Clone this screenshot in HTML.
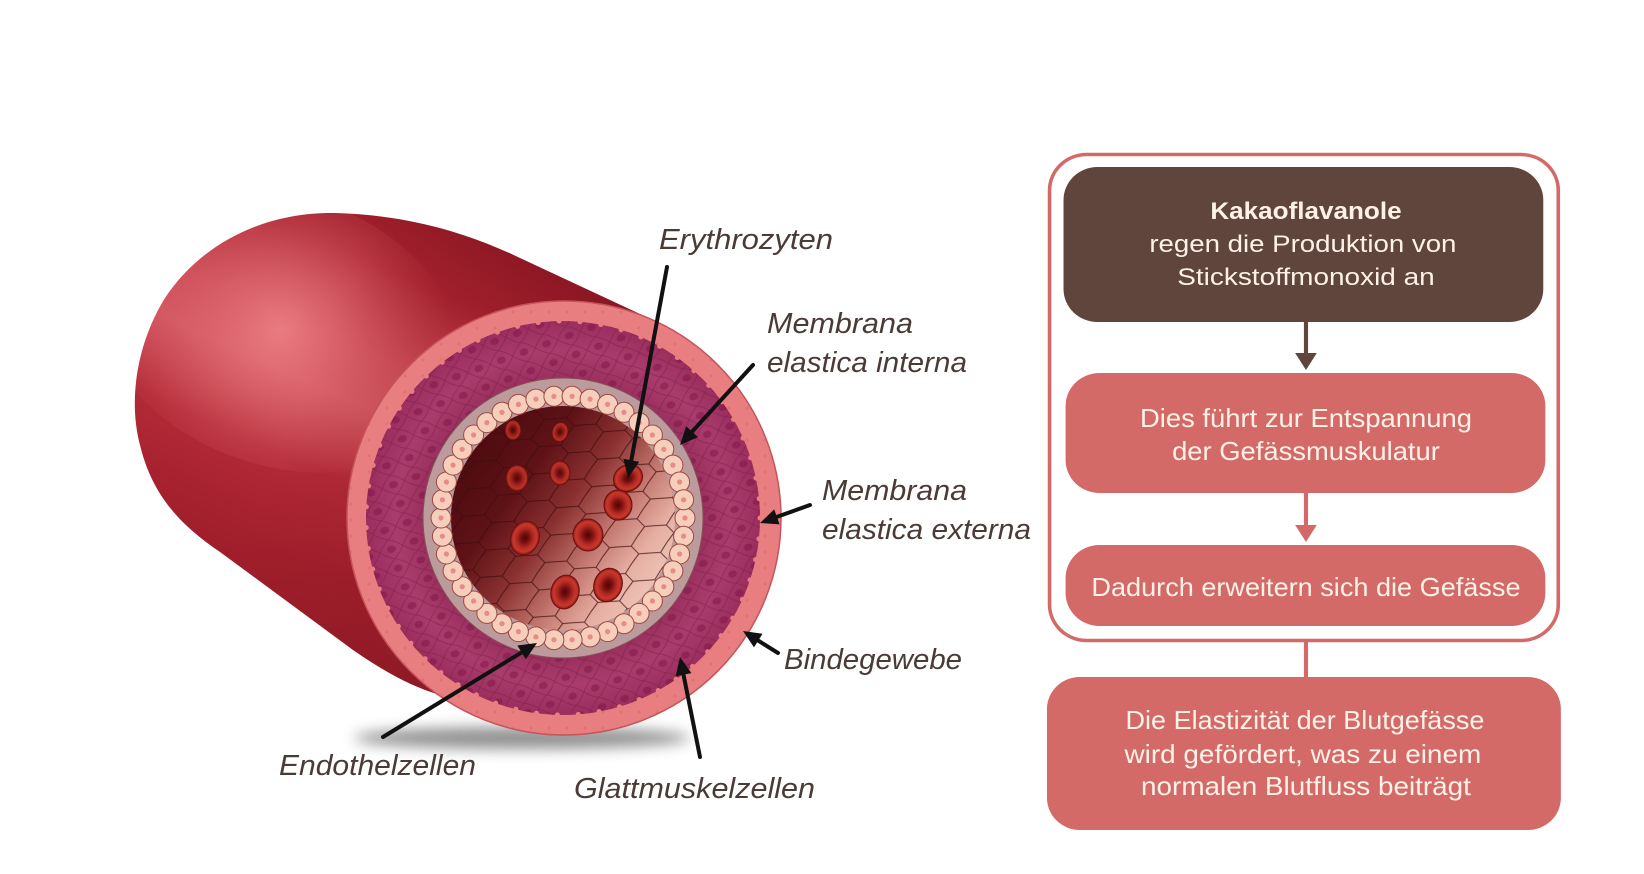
<!DOCTYPE html>
<html><head><meta charset="utf-8"><style>html,body{margin:0;padding:0;background:#fff;width:1644px;height:874px;overflow:hidden}svg{display:block}</style></head>
<body>
<svg width="1644" height="874" viewBox="0 0 1644 874" xmlns="http://www.w3.org/2000/svg">
<defs>
  <linearGradient id="bodyGrad" gradientUnits="userSpaceOnUse" x1="420" y1="190" x2="224" y2="628">
    <stop offset="0" stop-color="#8f1824"/>
    <stop offset="0.18" stop-color="#a8222f"/>
    <stop offset="0.36" stop-color="#cc4a55"/>
    <stop offset="0.46" stop-color="#d2565f"/>
    <stop offset="0.62" stop-color="#b32a37"/>
    <stop offset="0.82" stop-color="#a21f2c"/>
    <stop offset="1" stop-color="#981c29"/>
  </linearGradient>
  <radialGradient id="hiGrad" gradientUnits="userSpaceOnUse" cx="280" cy="330" r="170">
    <stop offset="0" stop-color="#ee8488" stop-opacity="0.85"/>
    <stop offset="0.5" stop-color="#e06a72" stop-opacity="0.45"/>
    <stop offset="1" stop-color="#d05560" stop-opacity="0"/>
  </radialGradient>
  <linearGradient id="axisDark" gradientUnits="userSpaceOnUse" x1="300" y1="400" x2="600" y2="530">
    <stop offset="0" stop-color="#6a0c18" stop-opacity="0"/>
    <stop offset="1" stop-color="#6a0c18" stop-opacity="0.35"/>
  </linearGradient>
  <clipPath id="bodyClip">
    <path d="M653,320 L520,258 C470,234 410,215 335,213 C262,212 200,245 165,298 C137,343 128,400 140,445 C152,495 180,525 220,552 L353,650 C385,672 410,686 440,695 L564,518 Z"/>
  </clipPath>
  <radialGradient id="muscleGrad" gradientUnits="userSpaceOnUse" cx="563" cy="518" r="197">
    <stop offset="0.7" stop-color="#9a2f5e"/>
    <stop offset="0.85" stop-color="#a93c6c"/>
    <stop offset="1" stop-color="#9b2e5e"/>
  </radialGradient>
  <pattern id="musclePat" width="24" height="20" patternUnits="userSpaceOnUse" patternTransform="rotate(-20)">
    <ellipse cx="12" cy="10" rx="4.5" ry="3.5" fill="#7a1242" opacity="0.45"/>
    <path d="M0,10 Q6,3 12,0 Q18,3 24,10 M0,10 Q6,17 12,20 Q18,17 24,10" stroke="#6e1a40" stroke-width="0.9" fill="none" opacity="0.45"/>
  </pattern>
  <pattern id="ringPat" width="18" height="16" patternUnits="userSpaceOnUse">
    <circle cx="9" cy="8" r="1.6" fill="#d8646a" opacity="0.5"/>
  </pattern>
  <linearGradient id="lumenGrad" gradientUnits="userSpaceOnUse" x1="460" y1="440" x2="660" y2="590">
    <stop offset="0" stop-color="#4a0a0e"/>
    <stop offset="0.3" stop-color="#5e1216"/>
    <stop offset="0.5" stop-color="#8a3030"/>
    <stop offset="0.7" stop-color="#c47a72"/>
    <stop offset="0.85" stop-color="#e6aea2"/>
    <stop offset="1" stop-color="#f0c6ba"/>
  </linearGradient>
  <pattern id="meshPat" width="30" height="28" patternUnits="userSpaceOnUse" patternTransform="rotate(12)">
    <path d="M15,0 L11,11 L0,14 M11,11 L20,17 L30,14 M20,17 L15,28" stroke="#3e0c0e" stroke-width="1" fill="none" opacity="0.8"/>
  </pattern>
  <clipPath id="lumenClip"><circle cx="563" cy="518" r="112"/></clipPath>
  <radialGradient id="rbc" cx="0.5" cy="0.5" r="0.5">
    <stop offset="0" stop-color="#4d0707"/>
    <stop offset="0.3" stop-color="#7d1010"/>
    <stop offset="0.58" stop-color="#b02a22"/>
    <stop offset="0.82" stop-color="#c9382d"/>
    <stop offset="1" stop-color="#8f1a16"/>
  </radialGradient>
  <filter id="blur" x="-50%" y="-200%" width="200%" height="500%"><feGaussianBlur stdDeviation="7"/></filter>
  <g id="bead">
    <circle r="10" fill="#f7cdbb" stroke="#9a4a42" stroke-width="1"/>
    <circle r="2.6" fill="#e68c88"/>
  </g>
</defs>

<rect width="1644" height="874" fill="#ffffff"/>

<!-- shadow -->
<ellipse cx="522" cy="738" rx="168" ry="11" fill="#6a6a6a" opacity="0.75" filter="url(#blur)"/>

<!-- cylinder body -->
<path d="M653,320 L520,258 C470,234 410,215 335,213 C262,212 200,245 165,298 C137,343 128,400 140,445 C152,495 180,525 220,552 L353,650 C385,672 410,686 440,695 L564,518 Z" fill="url(#bodyGrad)"/>
<g clip-path="url(#bodyClip)">
  <ellipse cx="280" cy="330" rx="190" ry="135" fill="url(#hiGrad)" transform="rotate(20 280 330)"/>
  <rect x="100" y="180" width="600" height="560" fill="url(#axisDark)"/>
</g>

<!-- front cross-section -->
<circle cx="564" cy="518" r="217" fill="#e97e80" stroke="#c4545c" stroke-width="1.5"/>
<circle cx="564" cy="518" r="216" fill="url(#ringPat)"/>
<circle cx="563" cy="518" r="197" fill="url(#muscleGrad)"/>
<circle cx="563" cy="518" r="197" fill="url(#musclePat)"/>
<circle cx="563" cy="518" r="197" fill="none" stroke="#e97e80" stroke-width="5" stroke-dasharray="0 21" stroke-linecap="round"/>
<circle cx="563" cy="518" r="140" fill="#bb9b9c" stroke="#874e58" stroke-width="1"/>
<circle cx="563" cy="518" r="112" fill="url(#lumenGrad)"/>
<g clip-path="url(#lumenClip)">
  <rect x="440" y="395" width="250" height="250" fill="url(#meshPat)"/>
  <g stroke="#6e0e0e" stroke-width="1">
    <ellipse cx="513" cy="430" rx="8" ry="10" fill="url(#rbc)" opacity="0.8"/>
    <ellipse cx="560" cy="432" rx="8" ry="10" fill="url(#rbc)" opacity="0.8" transform="rotate(15 560 432)"/>
    <ellipse cx="517" cy="478" rx="11" ry="13" fill="url(#rbc)" opacity="0.85"/>
    <ellipse cx="560" cy="473" rx="10" ry="12" fill="url(#rbc)" opacity="0.85"/>
    <ellipse cx="618" cy="505" rx="14" ry="15" fill="url(#rbc)"/>
    <ellipse cx="628" cy="478" rx="15" ry="13" fill="url(#rbc)" transform="rotate(-30 628 478)"/>
    <ellipse cx="525" cy="538" rx="14" ry="17" fill="url(#rbc)" transform="rotate(20 525 538)"/>
    <ellipse cx="588" cy="535" rx="15" ry="16" fill="url(#rbc)"/>
    <ellipse cx="565" cy="592" rx="14" ry="17" fill="url(#rbc)" transform="rotate(15 565 592)"/>
    <ellipse cx="608" cy="585" rx="14" ry="17" fill="url(#rbc)" transform="rotate(20 608 585)"/>
  </g>
</g>
<!-- endothelial beads -->
<g>
<use href="#bead" x="685" y="518"/><use href="#bead" x="683.6" y="536.2"/><use href="#bead" x="679.6" y="554"/><use href="#bead" x="672.9" y="570.9"/><use href="#bead" x="663.8" y="586.7"/><use href="#bead" x="652.4" y="601"/><use href="#bead" x="639.1" y="613.4"/><use href="#bead" x="624" y="623.7"/><use href="#bead" x="607.6" y="631.6"/><use href="#bead" x="590.1" y="636.9"/><use href="#bead" x="572.1" y="639.7"/><use href="#bead" x="553.9" y="639.7"/><use href="#bead" x="535.9" y="636.9"/><use href="#bead" x="518.4" y="631.6"/><use href="#bead" x="502" y="623.7"/><use href="#bead" x="486.9" y="613.4"/><use href="#bead" x="473.6" y="601"/><use href="#bead" x="462.2" y="586.7"/><use href="#bead" x="453.1" y="570.9"/><use href="#bead" x="446.4" y="554"/><use href="#bead" x="442.4" y="536.2"/><use href="#bead" x="441" y="518"/><use href="#bead" x="442.4" y="499.8"/><use href="#bead" x="446.4" y="482"/><use href="#bead" x="453.1" y="465.1"/><use href="#bead" x="462.2" y="449.3"/><use href="#bead" x="473.6" y="435"/><use href="#bead" x="486.9" y="422.6"/><use href="#bead" x="502" y="412.3"/><use href="#bead" x="518.4" y="404.4"/><use href="#bead" x="535.9" y="399.1"/><use href="#bead" x="553.9" y="396.3"/><use href="#bead" x="572.1" y="396.3"/><use href="#bead" x="590.1" y="399.1"/><use href="#bead" x="607.6" y="404.4"/><use href="#bead" x="624" y="412.3"/><use href="#bead" x="639.1" y="422.6"/><use href="#bead" x="652.4" y="435"/><use href="#bead" x="663.8" y="449.3"/><use href="#bead" x="672.9" y="465.1"/><use href="#bead" x="679.6" y="482"/><use href="#bead" x="683.6" y="499.8"/>
</g>

<!-- arrows -->
<g stroke="#111" stroke-width="4" stroke-linecap="round" fill="none">
  <line x1="667" y1="267" x2="631.3" y2="460.3"/>
  <line x1="753" y1="365" x2="692.1" y2="431.7"/>
  <line x1="810" y1="505" x2="776.9" y2="516.9"/>
  <line x1="778" y1="653" x2="758.2" y2="640.6"/>
  <line x1="700" y1="757" x2="683.5" y2="674.7"/>
  <line x1="383" y1="737" x2="521.6" y2="652.4"/>
</g>
<g fill="#111">
  <polygon points="628,478 623.4,458.8 639.2,461.8"/>
  <polygon points="680,445 686.2,426.3 698,437.1"/>
  <polygon points="760,523 774.2,509.4 779.6,524.4"/>
  <polygon points="743,631 762.5,633.8 754,647.4"/>
  <polygon points="680,657 691.4,673.1 675.7,676.2"/>
  <polygon points="537,643 525.8,659.2 517.4,645.5"/>
</g>

<!-- labels -->
<g font-family="'Liberation Sans', 'DejaVu Sans', sans-serif" font-style="italic" font-size="29" fill="#4a3b37">
  <text x="659" y="249" textLength="174" lengthAdjust="spacingAndGlyphs">Erythrozyten</text>
  <text x="767" y="333" textLength="146" lengthAdjust="spacingAndGlyphs">Membrana</text>
  <text x="767" y="372" textLength="200" lengthAdjust="spacingAndGlyphs">elastica interna</text>
  <text x="822" y="500" textLength="145" lengthAdjust="spacingAndGlyphs">Membrana</text>
  <text x="822" y="539" textLength="209" lengthAdjust="spacingAndGlyphs">elastica externa</text>
  <text x="784" y="669" textLength="178" lengthAdjust="spacingAndGlyphs">Bindegewebe</text>
  <text x="279" y="775" textLength="197" lengthAdjust="spacingAndGlyphs">Endothelzellen</text>
  <text x="574" y="798" textLength="241" lengthAdjust="spacingAndGlyphs">Glattmuskelzellen</text>
</g>

<!-- flowchart -->
<g transform="translate(1048 0) scale(1.034 1) translate(-1048 0)">
<rect x="1049.5" y="154.5" width="492" height="486" rx="36" ry="36" fill="none" stroke="#d36a68" stroke-width="3.5"/>
<rect x="1063" y="167" width="464" height="155" rx="33" ry="33" fill="#5f453b"/>
<line x1="1297.5" y1="322" x2="1297.5" y2="356" stroke="#5f453b" stroke-width="4"/>
<polygon points="1287,353 1308,353 1297.5,370" fill="#5f453b"/>
<rect x="1065" y="373" width="464" height="120" rx="33" ry="33" fill="#d36a68"/>
<line x1="1297.5" y1="493" x2="1297.5" y2="528" stroke="#d36a68" stroke-width="4"/>
<polygon points="1287,525 1308,525 1297.5,542" fill="#d36a68"/>
<rect x="1065" y="545" width="464" height="81" rx="33" ry="33" fill="#d36a68"/>
<line x1="1297.5" y1="641" x2="1297.5" y2="678" stroke="#d36a68" stroke-width="4"/>
<rect x="1047" y="677" width="497" height="153" rx="32" ry="32" fill="#d36a68"/>

<g font-family="'Liberation Sans', 'DejaVu Sans', sans-serif" fill="#fdf1e8">
  <text x="1205" y="219" font-size="24" font-weight="bold" textLength="185" lengthAdjust="spacingAndGlyphs">Kakaoflavanole</text>
  <text x="1146" y="252" font-size="24" textLength="297" lengthAdjust="spacingAndGlyphs">regen die Produktion von</text>
  <text x="1173" y="285" font-size="24" textLength="249" lengthAdjust="spacingAndGlyphs">Stickstoffmonoxid an</text>
  <text x="1137" y="427" font-size="26" textLength="321" lengthAdjust="spacingAndGlyphs">Dies führt zur Entspannung</text>
  <text x="1168" y="460" font-size="26" textLength="259" lengthAdjust="spacingAndGlyphs">der Gefässmuskulatur</text>
  <text x="1090" y="596" font-size="26" textLength="415" lengthAdjust="spacingAndGlyphs">Dadurch erweitern sich die Gefässe</text>
  <text x="1123" y="729" font-size="26" textLength="347" lengthAdjust="spacingAndGlyphs">Die Elastizität der Blutgefässe</text>
  <text x="1122" y="763" font-size="26" textLength="345" lengthAdjust="spacingAndGlyphs">wird gefördert, was zu einem</text>
  <text x="1138" y="795" font-size="26" textLength="319" lengthAdjust="spacingAndGlyphs">normalen Blutfluss beiträgt</text>
</g>
</g>
</svg>
</body></html>
